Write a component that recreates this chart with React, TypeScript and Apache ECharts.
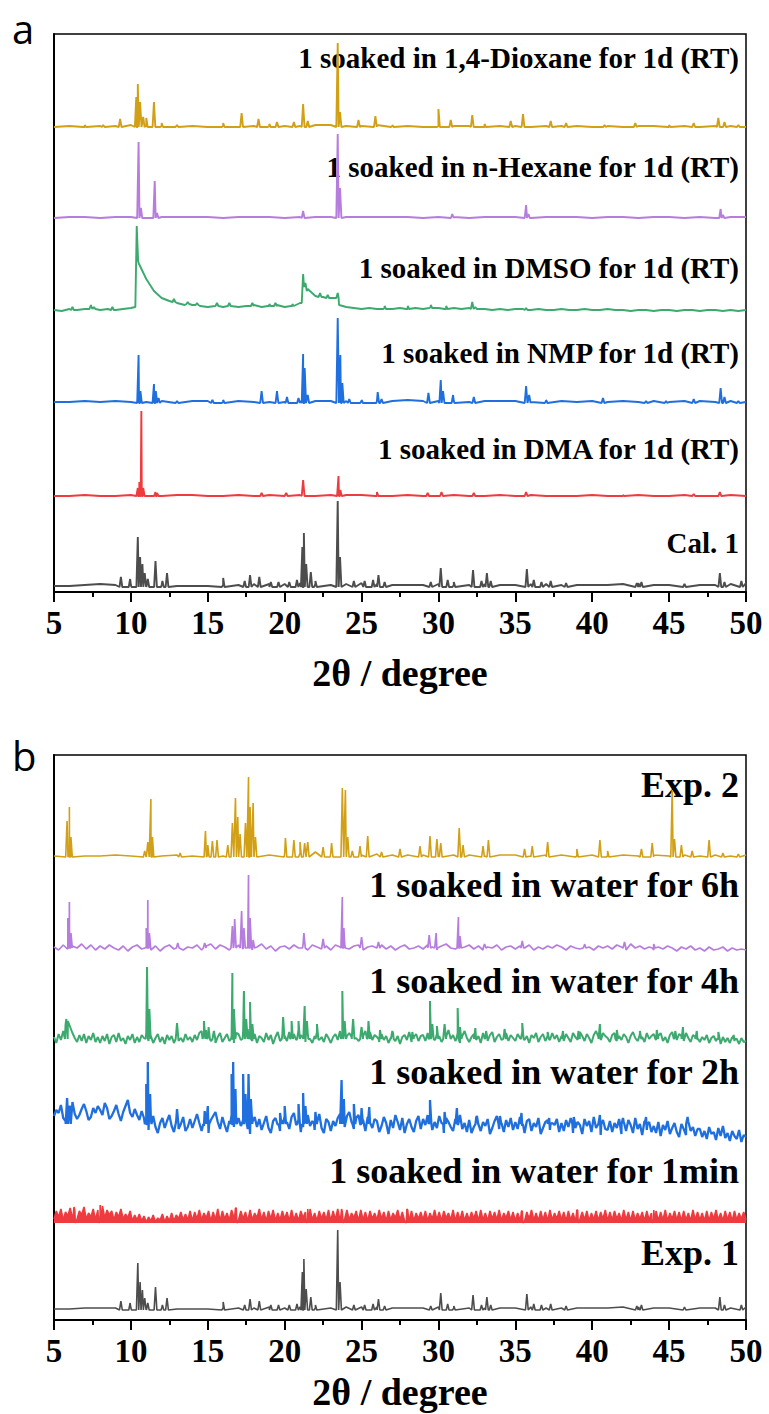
import React, { useEffect, useRef } from "react";
import * as echarts from "echarts";

// ---------- tick labels / texts ----------
const X_MIN = 5;
const X_MAX = 50;
const X_STEP = 5;
const X_TITLE = "2θ / degree";
const LABELS_A = [
  "1 soaked in 1,4-Dioxane for 1d (RT)",
  "1 soaked in n-Hexane for 1d (RT)",
  "1 soaked in DMSO for 1d (RT)",
  "1 soaked in NMP for 1d (RT)",
  "1 soaked in DMA for 1d (RT)",
  "Cal. 1",
];
const LABELS_B = [
  "Exp. 2",
  "1 soaked in water for 6h",
  "1 soaked in water for 4h",
  "1 soaked in water for 2h",
  "1 soaked in water for 1min",
  "Exp. 1",
];

// ---------- panel a data (baseline samples + peaks [2θ, top, footL, footR]) ----------
const GOLD_A_BASE = [0,1,0,1,1,2,1,1,2,1, 0,1,0,1,1,1,1,2,2,1, 1,2,1,1,0,1,1,1,0,1, 1,0,1,1,1,0,1,0,1,1, 0,1,0,1,1,0];
const GOLD_A_PEAKS = [[7.0,2],[8.2,2],[9.3,8],[10.35,30],[10.45,43],[10.6,25],[10.8,10],[11.0,9],[11.5,25],[12.0,4],[13.0,2],[16.0,4],[17.2,14],[18.3,8],[19.0,3],[19.5,5],[20.6,5],[21.2,23],[21.5,6],[23.45,84],[23.6,15],[24.8,7],[25.9,11],[27.0,2],[30.0,18],[30.8,7],[32.2,12],[33.0,3],[34.7,6],[35.5,13],[37.3,6],[38.3,4],[40.8,2],[42.8,4],[45.0,2],[46.6,4],[48.2,9],[48.6,5],[49.5,2]];

const PURPLE_A_BASE = [0,1,1,0,1,1,0,1,1,1, 1,0,1,1,1,0,1,1,1,1, 1,1,1,1,0,1,1,0,1,1, 1,0,1,1,1,0,1,1,0,1, 1,0,1,0,1,1];
const PURPLE_A_PEAKS = [[10.5,76],[10.65,10],[11.55,37],[11.7,5],[21.2,7],[23.45,84],[23.6,30],[30.9,4],[35.7,13],[35.85,4],[48.35,9],[48.5,3]];

const GREEN_A_BASE = [
  1,0,2,1,2,3,1,2,1,2,
  3,48,32,20,13,10,8,6,6,5,
  4,5,4,5,4,5,6,4,5,6,
  4,5,8,22,15,14,13,14,4,3,
  2,3,2,3,2,3,2,3,2,4,
  3,2,3,2,3,2,2,1,2,1,
  2,2,1,2,1,1,2,1,1,2,
  1,1,2,1,1,0,1,1,0,1,
  1,0,1,1,0,1,1,0,1,0,
  1,
];
const GREEN_A_PEAKS = [[6.2,4,1,1],[7.4,6,2,2],[7.6,4,2,2],[8.8,4,1,1],[10.38,85,4,50],[12.8,12,9,9],[13.7,9,7,7],[14.3,8,6,6],[15.6,8,5,5],[16.4,8,5,5],[17.9,8,5,5],[19.0,7,5,5],[19.4,8,5,5],[20.5,7,5,5],[21.2,37,8,24],[21.35,28,24,20],[22.3,18,14,14],[22.8,16,13,13],[23.45,18,13,6],[26.5,5,2,2],[28.0,5,2,2],[29.5,6,3,3],[30.5,5,2,2],[32.2,9,2,2],[32.4,4,2,2],[35.7,3,1,1]];

const BLUE_A_BASE = [1,1,2,1,2,1,1,2,2,2, 2,1,2,1,1,1,2,2,2,2, 2,2,2,3,2,2,2,1,2,2, 2,1,2,2,1,2,1,2,1,2, 1,2,2,1,2,1];
const BLUE_A_PEAKS = [[10.5,48],[10.62,12],[11.5,19],[11.62,12],[11.8,5],[13.0,2],[15.3,3],[16.0,3],[18.5,12],[19.5,12],[20.15,6],[20.9,5],[21.2,49],[21.3,35],[21.5,8],[23.45,85],[23.62,48],[23.75,20],[24.2,4],[25.0,3],[26.05,11],[26.3,4],[29.35,10],[30.15,23],[30.3,12],[30.95,8],[32.3,6],[35.7,17],[35.9,8],[37.0,3],[40.7,5],[43.5,2],[44.8,2],[46.6,4],[48.35,15],[48.6,6],[49.5,2]];

const RED_A_BASE = [0,0,1,0,0,1,0,0,1,1, 0,0,1,0,1,0,1,0,1,1, 1,0,0,1,0,0,1,0,0,1, 0,1,0,0,0,1,0,0,1,0, 0,1,0,0,1,0];
const RED_A_PEAKS = [[10.45,8],[10.55,14],[10.68,85],[10.8,8],[11.6,4],[11.7,3],[18.5,3],[20.1,3],[21.2,16],[23.5,20],[23.62,6],[26.0,4],[29.3,3],[30.2,4],[32.3,3],[35.7,4],[42.0,1],[46.6,2],[48.3,4]];

const GRAY_A_BASE = [1,1,2,3,2,2,2,2,1,1, 1,2,2,3,3,3,4,3,2,3, 4,3,2,2,2,3,2,2,3,2, 2,3,3,2,2,2,2,3,4,2, 2,3,2,2,3,4];
const GRAY_A_PEAKS = [[9.35,10],[9.95,8],[10.45,50],[10.6,30],[10.75,23],[10.9,14],[11.1,8],[11.6,26],[12.05,6],[12.35,14],[16.0,9],[17.4,6],[17.75,12],[18.35,10],[19.1,5],[19.6,5],[20.3,5],[20.8,7],[21.15,40],[21.25,54],[21.4,23],[21.7,15],[22.0,6],[23.45,86],[23.6,30],[24.5,6],[25.2,6],[25.75,7],[26.1,12],[26.5,5],[29.5,5],[30.15,19],[30.6,7],[31.0,5],[32.25,17],[32.8,6],[33.15,14],[33.4,6],[35.75,18],[36.2,7],[36.7,5],[37.3,6],[38.3,4],[42.9,4],[43.2,5],[46.0,3],[48.3,14],[48.6,5],[49.7,6]];

// ---------- panel b data ----------
const GOLD_B_BASE = [1,2,1,1,2,1,2,1,2,1, 2,1,2,1,2,3,4,5,4,3, 2,3,2,2,2,1,2,2,1,2, 2,1,2,2,1,2,1,2,1,2, 1,2,1,2,1,2];
const GOLD_B_PEAKS = [[5.85,36],[6.0,50],[6.1,20],[10.9,6],[11.1,15],[11.3,58],[11.4,20],[13.2,4],[14.85,26],[15.0,12],[15.3,16],[15.6,17],[16.3,12],[16.6,34],[16.8,59],[16.95,40],[17.1,23],[17.45,34],[17.65,80],[17.75,50],[17.95,54],[18.1,20],[20.05,19],[20.6,17],[21.0,15],[21.3,14],[21.5,15],[22.5,10],[23.05,14],[23.75,69],[23.95,67],[24.1,20],[24.4,6],[24.9,11],[25.4,21],[26.3,5],[27.5,8],[28.8,11],[29.45,21],[29.9,18],[30.15,14],[31.35,29],[31.6,12],[32.9,11],[33.25,17],[35.6,8],[36.1,11],[37.1,15],[39.0,8],[40.5,17],[41.0,6],[43.2,8],[43.9,14],[45.2,67],[45.35,18],[45.8,12],[46.5,6],[47.6,17],[48.5,4],[49.5,3]];

const PURPLE_B_BASE = [
  1,-2,3,-1,2,0,4,-1,3,-2,
  2,-1,3,0,-2,2,-3,1,3,-1,
  1,-2,2,-3,1,3,-1,2,-2,1,
  0,3,-2,2,4,-1,3,1,-2,2,
  3,-1,2,-2,1,4,-1,2,-3,1,
  2,-1,3,0,4,-2,3,1,-1,2,
  -2,3,1,4,-1,2,3,-2,1,2,
  0,3,-1,2,-2,1,3,-1,0,2,
  -1,3,1,-2,2,4,0,-1,2,1,
  3,-1,2,-2,1,0,3,-2,1,2,
  -1,2,0,3,-2,1,-1,2,0,3,
  1,-2,2,0,-1,3,1,-2,2,0,
  2,-1,3,1,-2,4,0,2,-1,1,
  -2,1,-1,2,0,-3,1,-1,2,-2,
  0,-3,1,-2,-1,1,-3,0,-2,-1,
  -2,
];
const PURPLE_B_PEAKS = [[5.9,30],[6.0,46],[6.1,15],[11.0,20],[11.1,48],[11.2,15],[13.05,5],[14.8,5],[16.6,22],[16.75,29],[17.2,37],[17.35,20],[17.65,73],[17.75,30],[17.95,8],[21.25,15],[22.5,9],[23.75,51],[23.85,20],[25.0,11],[26.1,6],[29.4,13],[29.85,15],[31.3,31],[31.4,12],[33.0,4],[35.45,7],[39.5,4],[42.1,6],[44.0,4]];

const GREEN_B_BASE = [
  2,-4,5,-1,8,14,18,12,6,1,-3,4,-2,5,-4,3,-1,6,-3,2,
  -4,3,-2,5,-5,2,4,-3,6,-2,1,-5,3,-1,5,-4,2,-3,4,1,
  6,-2,3,-4,1,5,-3,2,-5,4,-1,3,-4,6,-2,1,-3,5,-1,2,
  -3,4,-1,6,8,5,9,3,-2,4,-4,2,6,-3,1,5,-2,3,-4,6,
  5,-1,8,3,10,2,-2,5,-4,3,1,-3,6,-1,4,-5,2,7,-2,4,
  3,-2,7,2,5,-1,9,4,1,-3,6,0,-4,3,7,-1,2,-3,5,1,
  -4,2,5,-1,8,4,10,3,6,2,9,1,-2,6,3,8,1,7,-1,4,
  2,-3,5,-1,3,-4,1,6,-2,3,-5,2,4,-1,7,-3,2,5,-2,3,
  4,-2,6,1,8,-1,5,3,-3,7,2,9,0,4,-2,6,-4,3,8,1,
  -3,2,5,-1,3,-4,6,1,-2,4,7,-3,2,5,-1,3,6,-2,4,1,
  -2,5,1,7,-1,3,-4,4,1,6,-3,2,5,-2,3,-1,6,0,4,-3,
  3,-2,5,1,-3,6,2,-1,7,3,-2,5,1,-4,4,8,2,-1,6,3,
  1,-3,4,6,-2,3,-1,5,2,-4,3,7,1,-2,5,2,-3,6,0,3,
  5,-1,3,6,-2,2,-4,4,7,1,-1,5,3,-2,6,1,-3,4,2,-1,
  -3,2,-1,4,-4,1,3,-2,0,-5,2,-3,1,-4,2,-2,0,-5,1,-3,
  -2,
];
const GREEN_B_PEAKS = [[5.8,20],[11.05,72],[11.2,30],[13.0,16],[14.75,18],[15.05,12],[15.4,8],[16.6,66],[16.7,30],[17.35,48],[17.5,20],[17.75,37],[17.9,15],[19.9,22],[20.45,18],[20.9,18],[21.3,33],[21.45,18],[22.1,15],[23.75,48],[23.9,18],[24.45,20],[25.0,12],[25.45,18],[26.2,9],[27.0,8],[28.3,7],[29.45,38],[29.6,15],[29.9,13],[30.4,15],[31.25,31],[31.4,12],[32.4,11],[33.1,8],[34.3,10],[35.45,16],[37.1,7],[38.1,8],[39.1,8],[40.5,15],[41.6,9],[43.1,8],[44.2,9],[45.4,8],[45.9,12],[46.8,8],[48.2,7],[49.2,4]];

const BLUE_B_BASE = [
  8,14,11,19,6,3,12,17,22,10,5,9,15,20,13,4,7,16,11,18,
  14,9,21,16,5,8,13,19,10,3,12,18,24,11,7,15,9,4,13,6,
  2,-6,5,8,-3,-9,1,6,-4,3,9,-2,-8,4,-5,0,7,-7,-3,5,
  -4,3,10,1,-7,-2,6,-9,4,8,12,2,-5,7,-1,-8,3,9,-3,1,
  6,-2,4,9,-5,-10,2,7,-3,5,-6,1,8,-4,-9,3,6,-1,-7,4,
  8,2,-5,7,11,-1,4,-8,-3,6,9,-2,3,-6,1,10,-4,-9,5,2,
  -7,3,-2,6,10,4,-3,8,12,2,-5,6,9,-1,4,-7,7,1,-4,5,
  3,-8,-2,7,1,-10,4,-4,9,2,-6,6,-9,0,5,-3,-8,3,8,-5,
  5,-1,9,3,-6,2,-4,8,1,-9,6,2,-3,-7,5,-1,9,-5,1,-8,
  4,-9,-3,6,0,-7,2,-2,5,-10,-4,3,8,-5,1,-8,4,-3,6,-6,
  2,-5,7,-2,-9,3,5,-7,1,-3,6,-10,-4,2,4,-6,1,-1,5,-8,
  1,-7,4,-3,6,-9,-4,2,-1,-10,5,-2,3,-8,7,-4,0,-11,4,-5,
  -6,3,-8,1,-4,5,-10,2,-7,4,-1,-9,6,-5,0,-11,3,-6,2,-8,
  -2,-9,2,-12,-1,-6,3,-10,-4,1,-8,-13,0,-5,-11,2,-7,-3,-12,-5,
  -5,-13,-7,-15,-3,-10,-8,-16,-4,-12,-2,-14,-9,-17,-7,-12,-15,-6,-18,-11,
  -13,
];
const BLUE_B_PEAKS = [[5.85,26],[6.0,18],[11.0,40],[11.1,62],[11.25,30],[13.0,15],[14.8,13],[15.0,18],[16.55,50],[16.65,62],[16.8,35],[17.3,50],[17.45,30],[17.65,50],[17.8,25],[19.7,11],[20.0,18],[20.9,20],[21.2,31],[21.35,18],[22.0,12],[23.7,44],[23.85,25],[24.5,20],[25.0,16],[25.5,17],[29.45,24],[30.4,12],[31.2,16],[32.5,8],[34.0,8],[35.4,11],[37.2,6],[38.8,7],[40.5,9],[42.0,6],[43.5,7],[46.2,7]];

const RED_B_BASE = [
  4,12,6,14,3,11,7,15,5,13,4,12,8,16,4,10,6,14,3,13,
  7,17,5,13,8,12,3,11,6,14,4,9,5,12,2,8,3,9,2,7,
  1,6,2,8,1,5,3,9,1,7,2,10,2,8,4,11,3,9,3,12,
  2,11,4,13,3,10,5,12,2,11,3,14,2,12,4,10,3,13,5,15,
  3,12,4,11,2,13,3,10,5,14,3,11,2,12,4,13,2,10,3,12,
  4,11,2,13,3,10,2,12,5,11,3,14,3,10,2,12,4,11,3,13,
  2,12,3,14,2,11,4,13,3,10,5,12,2,13,3,11,2,12,4,10,
  3,13,4,11,2,12,3,10,5,13,3,11,2,14,3,12,2,10,4,11,
  3,12,2,10,4,13,3,11,2,12,5,10,3,13,2,11,3,12,2,10,
  3,11,4,12,2,13,3,10,2,12,4,11,3,13,2,10,5,12,3,11,
  2,10,3,12,2,11,4,13,3,10,2,12,3,11,2,13,3,10,4,12,
  3,11,2,12,3,10,2,13,4,11,3,12,2,10,3,12,2,11,4,13,
  2,11,3,12,4,10,2,13,3,11,2,12,3,10,4,11,2,12,3,10,
  3,12,2,11,3,13,2,10,4,12,3,11,2,12,3,10,2,13,3,11,
  3,10,2,12,2,11,4,13,3,10,2,12,3,11,2,12,3,10,4,11,
  3,
];
const RED_B_PEAKS = [[6.3,16],[8.0,18],[16.8,15],[21.5,14],[23.7,14],[28.0,13],[35.4,12],[39.0,13],[44.0,13]];

const GRAY_B_BASE = [1,1,2,2,2,2,2,2,1,1, 1,2,2,2,3,2,3,2,2,3, 3,3,2,2,2,3,2,2,2,2, 2,3,2,2,2,2,2,3,3,2, 2,3,2,2,2,3];
const GRAY_B_PEAKS = [[9.35,9],[9.95,7],[10.45,47],[10.6,28],[10.75,20],[10.9,12],[11.1,7],[11.6,23],[12.05,5],[12.35,12],[16.0,8],[17.4,5],[17.75,11],[18.35,9],[19.1,5],[19.6,5],[20.3,5],[20.8,6],[21.15,38],[21.25,51],[21.4,21],[21.7,13],[22.0,5],[23.45,80],[23.6,28],[24.5,5],[25.2,5],[25.75,6],[26.1,11],[26.5,4],[29.5,4],[30.15,17],[30.6,6],[31.0,4],[32.25,15],[32.8,5],[33.15,13],[33.4,5],[35.75,16],[36.2,6],[36.7,5],[37.3,6],[38.3,4],[42.9,4],[43.2,5],[46.0,3],[48.3,13],[48.6,5],[49.7,5]];

// ---------- styling / layout ----------
const COLORS = ["#D2A016", "#B67DDE", "#3CAA6E", "#1F6FDE", "#EF3B3E", "#4D4D4D"];
const SERIF_FAMILY = "Liberation Serif";
const PEAK_W = 0.09;

type Trace = { base: number[]; step: number; peaks: number[][]; offset: number };

const TRACES_A: Trace[] = [
  { base: GOLD_A_BASE, step: 1, peaks: GOLD_A_PEAKS, offset: 465 },
  { base: PURPLE_A_BASE, step: 1, peaks: PURPLE_A_PEAKS, offset: 374 },
  { base: GREEN_A_BASE, step: 0.5, peaks: GREEN_A_PEAKS, offset: 281 },
  { base: BLUE_A_BASE, step: 1, peaks: BLUE_A_PEAKS, offset: 189 },
  { base: RED_A_BASE, step: 1, peaks: RED_A_PEAKS, offset: 96 },
  { base: GRAY_A_BASE, step: 1, peaks: GRAY_A_PEAKS, offset: 5 },
];
const TRACES_B: Trace[] = [
  { base: GOLD_B_BASE, step: 1, peaks: GOLD_B_PEAKS, offset: 463 },
  { base: PURPLE_B_BASE, step: 0.3, peaks: PURPLE_B_PEAKS, offset: 372 },
  { base: GREEN_B_BASE, step: 0.15, peaks: GREEN_B_PEAKS, offset: 281 },
  { base: BLUE_B_BASE, step: 0.15, peaks: BLUE_B_PEAKS, offset: 196 },
  { base: RED_B_BASE, step: 0.15, peaks: RED_B_PEAKS, offset: 97 },
  { base: GRAY_B_BASE, step: 1, peaks: GRAY_B_PEAKS, offset: 10 },
];
const WIDTHS_B = [1.6, 1.7, 2.0, 2.3, 1.6, 1.6];

function buildTrace(t: Trace): number[][] {
  const pts: number[][] = t.base.map((v, i) => [X_MIN + i * t.step, v]);
  t.peaks.forEach((p) => {
    const [x, top, fl = 0, fr = 0] = p;
    pts.push([x - PEAK_W, fl], [x, top], [x + PEAK_W, fr]);
  });
  pts.sort((a, b) => a[0] - b[0]);
  return pts.map(([x, y]) => [Math.round(x * 1000) / 1000, y + t.offset]);
}

const LABEL_Y_A = [58, 167, 268, 353, 449, 543];
const LABEL_Y_B = [785, 885, 981, 1072, 1171, 1253];

export default function App() {
  const ref = useRef<HTMLDivElement>(null);
  useEffect(() => {
    document.body.style.margin = "0";
    const chart = echarts.init(ref.current!, undefined, { renderer: "svg" });

    const xAxisBase = (gridIndex: number, nameGap: number) => ({
      gridIndex,
      type: "value",
      min: X_MIN,
      max: X_MAX,
      interval: X_STEP,
      axisLine: { show: true, onZero: false, lineStyle: { color: "#000", width: 2 } },
      axisTick: { show: true, inside: false, length: 10, lineStyle: { color: "#000", width: 2 } },
      minorTick: { show: true, splitNumber: 2, length: 5, lineStyle: { color: "#000", width: 2 } },
      splitLine: { show: false },
      axisLabel: { color: "#000", fontFamily: SERIF_FAMILY, fontWeight: "bold", fontSize: 33, margin: 14 },
      name: X_TITLE,
      nameLocation: "middle",
      nameGap,
      nameTextStyle: { color: "#000", fontFamily: SERIF_FAMILY, fontWeight: "bold", fontSize: 38 },
    });
    const yAxisBase = (gridIndex: number, max: number) => ({
      gridIndex,
      type: "value",
      min: 0,
      max,
      axisLine: { show: true, lineStyle: { color: "#000", width: 2 } },
      axisTick: { show: false },
      axisLabel: { show: false },
      splitLine: { show: false },
    });

    const series: any[] = [];
    TRACES_A.forEach((t, i) =>
      series.push({
        type: "line",
        xAxisIndex: 0,
        yAxisIndex: 0,
        data: buildTrace(t),
        showSymbol: false,
        symbol: "none",
        lineStyle: { color: COLORS[i], width: 1.9 },
        silent: true,
      })
    );
    TRACES_B.forEach((t, i) =>
      series.push({
        type: "line",
        xAxisIndex: 1,
        yAxisIndex: 1,
        data: buildTrace(t),
        showSymbol: false,
        symbol: "none",
        lineStyle: { color: COLORS[i], width: WIDTHS_B[i] },
        areaStyle: i === 4 ? { color: COLORS[i], opacity: 1, origin: t.offset } : undefined,
        silent: true,
      })
    );

    const textEl = (text: string, x: number, y: number, font: string, align: string) => ({
      type: "text",
      x,
      y,
      silent: true,
      style: { text, font, fill: "#000", textAlign: align, align, textVerticalAlign: "middle", verticalAlign: "middle" },
    });

    const graphic: any[] = [
      textEl("a", 12, 28, "40px 'Open Sans', sans-serif", "left"),
      textEl("b", 12, 755, "40px 'Open Sans', sans-serif", "left"),
      ...LABELS_A.map((s, i) => textEl(s, 739, LABEL_Y_A[i], `bold 29px '${SERIF_FAMILY}', serif`, "right")),
      ...LABELS_B.map((s, i) => textEl(s, 739, LABEL_Y_B[i], `bold 36px '${SERIF_FAMILY}', serif`, "right")),
    ];

    chart.setOption({
      animation: false,
      backgroundColor: "#fff",
      grid: [
        { left: 54, top: 34, width: 692, height: 558, show: true, borderColor: "#000", borderWidth: 1.5, backgroundColor: "transparent" },
        { left: 54, top: 755, width: 692, height: 565, show: true, borderColor: "#000", borderWidth: 1.5, backgroundColor: "transparent" },
      ],
      xAxis: [xAxisBase(0, 62), xAxisBase(1, 53)],
      yAxis: [yAxisBase(0, 558), yAxisBase(1, 565)],
      series,
      graphic,
    });
    return () => chart.dispose();
  }, []);
  return <div ref={ref} style={{ width: 769, height: 1414 }} />;
}
